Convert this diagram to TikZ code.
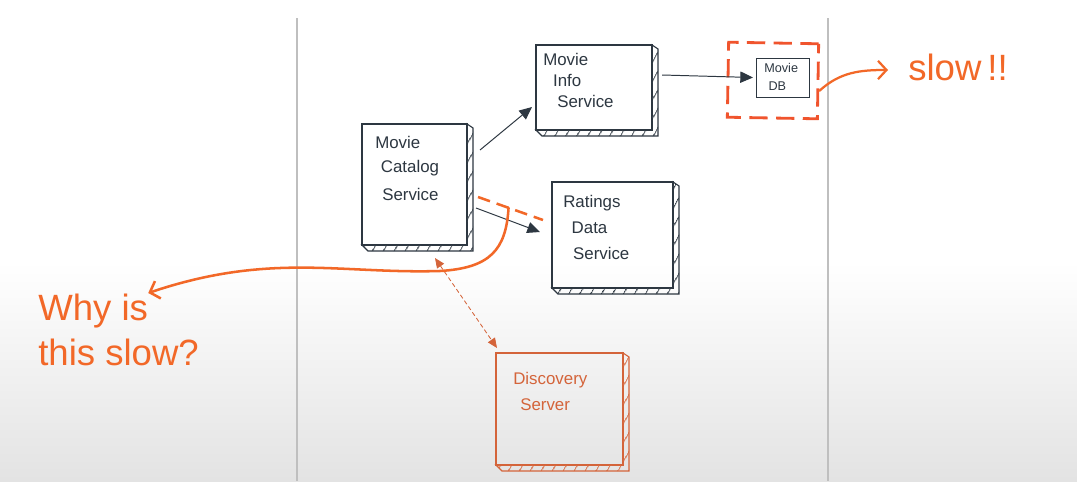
\documentclass[tikz,border=0pt]{standalone}
\usepackage{fontspec}
\setmainfont{Liberation Sans}
\usepackage{tikz}
\usetikzlibrary{arrows.meta, positioning, calc, patterns.meta}

\definecolor{ink}{RGB}{45,55,65}
\definecolor{marker}{RGB}{242,104,40}
\definecolor{rust}{RGB}{212,100,58}
\definecolor{alarm}{RGB}{240,84,45}

% hatched side and bottom of a sketched box
\newcommand{\hatchsides}[2]{%
  \draw[#2, line width=0.8pt, pattern={Lines[angle=60,distance=6.5pt,line width=0.8pt]}, pattern color=#2]
    (#1.north east) -- ++(6,4) -- ($(#1.south east)+(6,6)$) -- ($(#1.south west)+(6,6)$)
    -- (#1.south west) -- (#1.south east) -- cycle;
}

\begin{document}
\begin{tikzpicture}[
    x=0.025cm, y=-0.025cm,
    box/.style={rectangle, draw=ink, line width=0.9pt, inner sep=0pt, outer sep=0pt},
    boxtext/.style={anchor=north west, inner sep=0pt, align=left, text=ink, font=\fontsize{12}{17}\selectfont},
    arr/.style={-{Triangle[length=9pt,width=8pt]}, ink, line width=0.7pt},
    scrawl/.style={marker, line width=1.8pt, line cap=round},
    note/.style={anchor=base west, inner sep=0pt, text=marker, font=\fontsize{26}{30}\selectfont},
]
\useasboundingbox (0,0) rectangle (1077,481);

% Sheet and background
\fill[white] (0,0) rectangle (1077,481);
\shade[top color=white, bottom color=black!11] (0,262) rectangle (1077,481);
\draw[black!25, line width=1.8pt] (297,18) -- (297,481);
\draw[black!25, line width=1.8pt] (828,18) -- (828,481);

% Services
\node[box, minimum width=2.625cm, minimum height=3.025cm] (catalog) at (414.5,184.5) {};
\node[box, minimum width=2.9cm, minimum height=2.125cm] (info) at (594,87.5) {};
\node[box, minimum width=3.025cm, minimum height=2.65cm] (ratings) at (612.5,235) {};
\node[box, draw=rust, minimum width=3.175cm, minimum height=2.8cm] (discovery) at (559.5,409) {};
\node[box, line width=0.7pt, minimum width=1.325cm, minimum height=0.975cm] (db) at (782.5,77.5) {};
\node[rectangle, draw=alarm, line width=2pt, dash pattern=on 13pt off 6pt, rotate=-1,
      minimum width=2.25cm, minimum height=1.875cm] (dbzone) at (773,80.5) {};

\hatchsides{catalog}{ink}
\hatchsides{info}{ink}
\hatchsides{ratings}{ink}
\hatchsides{discovery}{rust}

% Box labels
\node[boxtext] (catalog-txt) at ([shift={(13,12)}]catalog.north west) {Movie\\\hspace*{4pt}Catalog\\[3pt]\hspace*{5pt}Service};
\node[boxtext, font=\fontsize{12}{15}\selectfont] (info-txt) at ([shift={(7,8)}]info.north west) {Movie\\\hspace*{7pt}Info\\\hspace*{10pt}Service};
\node[boxtext, font=\fontsize{12}{18.5}\selectfont] (ratings-txt) at ([shift={(11,13)}]ratings.north west) {Ratings\\\hspace*{6pt}Data\\\hspace*{7pt}Service};
\node[boxtext, text=rust, font=\fontsize{12}{18.5}\selectfont] (discovery-txt) at ([shift={(17,19)}]discovery.north west) {Discovery\\\hspace*{5pt}Server};
\node[boxtext, font=\fontsize{9}{12.5}\selectfont] (db-txt) at ([shift={(8,5)}]db.north west) {Movie\\\hspace*{3pt}DB};

% Calls
\draw[arr] ([shift={(13,-34.5)}]catalog.east) -- ([shift={(-4,-23)}]info.south west);
\draw[arr] ([shift={(9,23.5)}]catalog.east) -- ([shift={(-12,-3)}]ratings.west);
\draw[arr] ([shift={(10,-12.5)}]info.east) -- ([shift={(-3,0)}]db.west);
\draw[{Triangle[length=7pt,width=6pt]}-{Triangle[length=7pt,width=6pt]}, rust, line width=0.6pt, dash pattern=on 3pt off 2pt]
  ([shift={(20.5,13)}]catalog.south) -- ([shift={(1,-5)}]discovery.north west);

% Slow spots
\draw[scrawl, line cap=butt, dash pattern=on 9pt off 5pt]
  ([shift={(11,12.5)}]catalog.east) -- ([shift={(-9,-15)}]ratings.west) coordinate[pos=0.47] (slowspot);
\node[note] (why1) at (38,320) {Why is};
\node[note] (why2) at (38,365) {this slow?};
\draw[scrawl, -{Straight Barb[length=6pt,width=13pt]}]
  (slowspot) .. controls (506,250) and (490,268) .. (440,271)
  .. controls (340,274) and (270,252) .. ([shift={(0,-27)}]why1.base east);

\node[note] (slow) at (908,80) {slow\,!!};
\draw[scrawl, line width=1.6pt, -{Straight Barb[length=6pt,width=13pt]}]
  ([shift={(0,9.5)}]dbzone.east) .. controls (840,72) and (860,70) .. ([shift={(-20,-10)}]slow.base west);
\end{tikzpicture}
\end{document}
